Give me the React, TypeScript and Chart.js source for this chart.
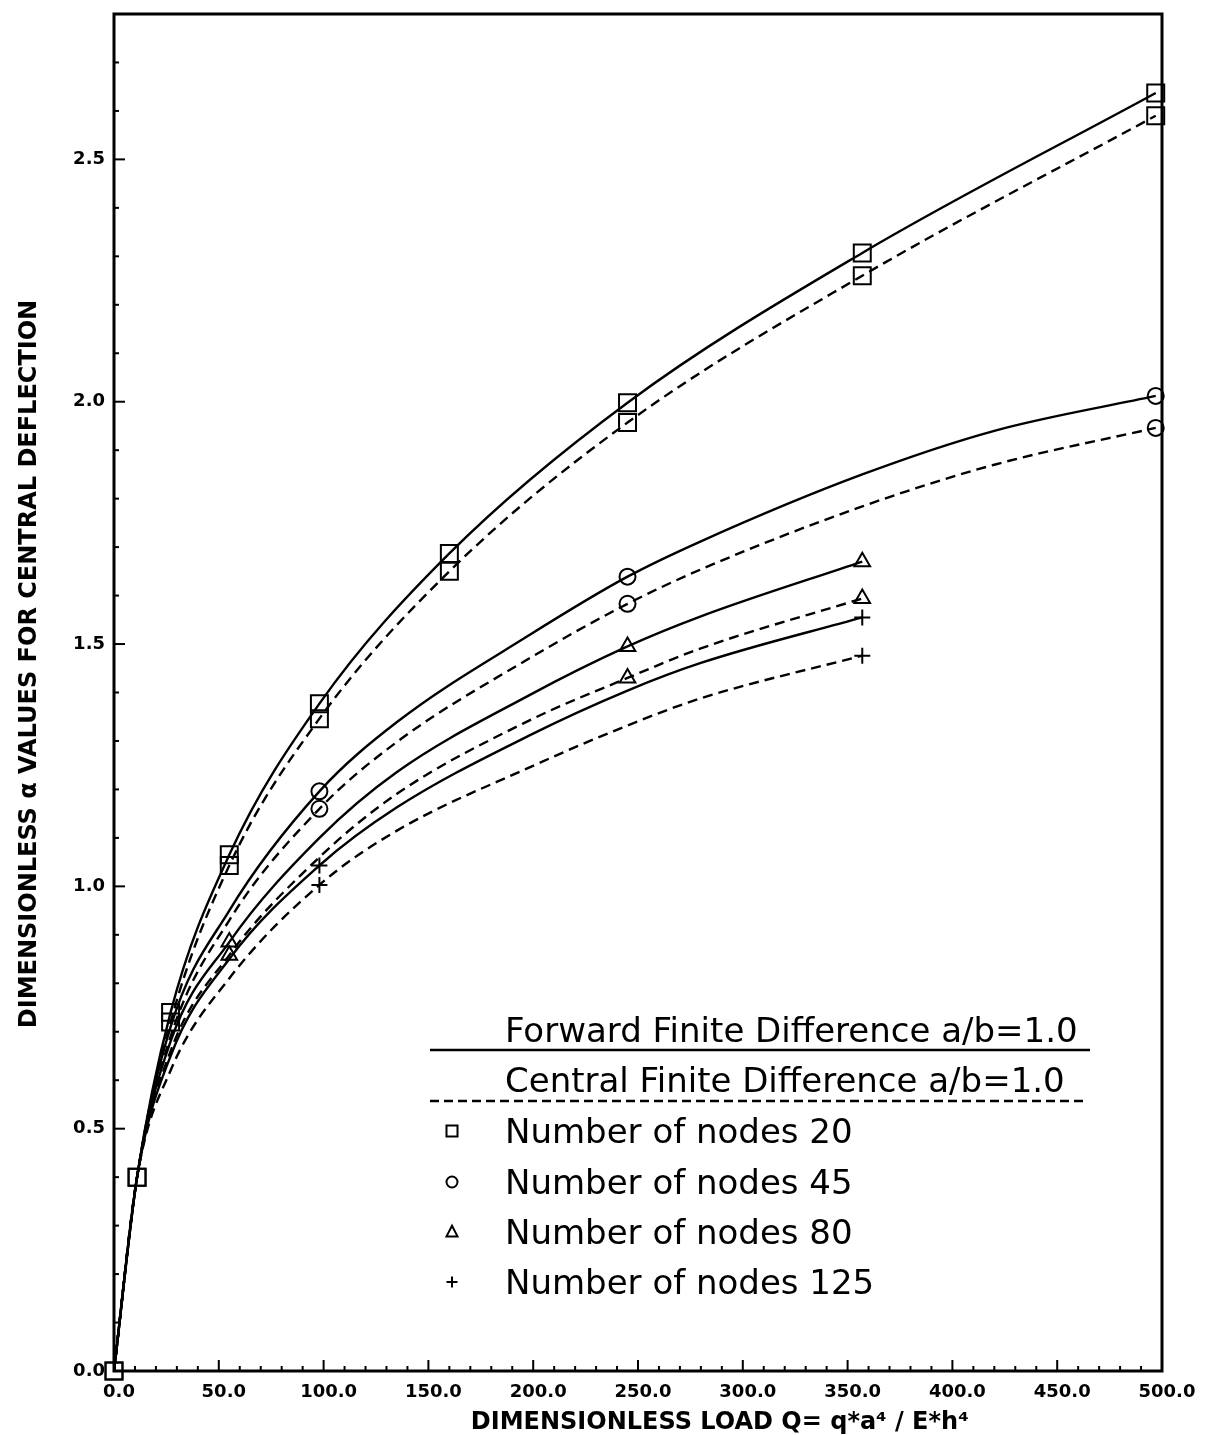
import React, { useEffect, useRef } from 'react';
import { Chart, registerables } from 'chart.js';

Chart.register(...registerables);

// ---- Data ----
// Number of nodes 20 (squares): markers at every data point
const Q_20 = [0, 11, 27, 55, 98, 160, 245, 357, 497];
const N20_FORWARD = [0, 0.4, 0.74, 1.065, 1.377, 1.687, 1.998, 2.307, 2.637];
const N20_CENTRAL = [0, 0.4, 0.72, 1.043, 1.346, 1.65, 1.957, 2.26, 2.59];

// Number of nodes 45 (circles)
const Q_45 = [0, 11, 27, 55, 98, 135, 198, 245, 280, 357, 420, 497];
const N45_FORWARD = [0, 0.4, 0.71, 0.95, 1.196, 1.339, 1.518, 1.639, 1.712, 1.85, 1.94, 2.012];
const N45_CENTRAL = [0, 0.4, 0.69, 0.93, 1.16, 1.298, 1.47, 1.583, 1.654, 1.784, 1.87, 1.946];
const MARK_Q_45 = [98, 245, 497];

// Number of nodes 80 (triangles)
const Q_80 = [0, 11, 27, 55, 98, 135, 198, 245, 280, 357];
const N80_FORWARD = [0, 0.4, 0.68, 0.885, 1.1, 1.236, 1.394, 1.495, 1.557, 1.67];
const N80_CENTRAL = [0, 0.4, 0.66, 0.858, 1.06, 1.191, 1.342, 1.43, 1.491, 1.594];
const MARK_Q_80 = [55, 245, 357];

// Number of nodes 125 (plus)
const Q_125 = [0, 11, 27, 55, 98, 135, 198, 245, 280, 357];
const N125_FORWARD = [0, 0.4, 0.65, 0.85, 1.043, 1.163, 1.311, 1.404, 1.461, 1.555];
const N125_CENTRAL = [0, 0.4, 0.62, 0.81, 1.003, 1.115, 1.245, 1.332, 1.388, 1.476];
const MARK_Q_125 = [98, 357];

// Axes
const X_MIN = 0;
const X_MAX = 500;
const X_MINOR_STEP = 10;
const X_MAJOR_STEP = 50;
const Y_MIN = 0;
const Y_MAX = 2.8;
const Y_MINOR_STEP = 0.1;
const Y_MAJOR_STEP = 0.5;

const X_TITLE = 'DIMENSIONLESS LOAD Q= q*a\u2074 / E*h\u2074';
const Y_TITLE = 'DIMENSIONLESS \u03b1 VALUES FOR CENTRAL DEFLECTION';
const LEGEND_METHODS = ['Forward Finite Difference a/b=1.0', 'Central Finite Difference a/b=1.0'];
const LEGEND_NODES = ['Number of nodes 20', 'Number of nodes 45', 'Number of nodes 80', 'Number of nodes 125'];
const LEGEND_MARKERS = ['rect', 'circle', 'triangle', 'cross'];

const isMultiple = (v: number, step: number) => Math.abs(v / step - Math.round(v / step)) < 1e-6;
const toPoints = (xs: number[], ys: number[]) => xs.map((x, i) => ({ x, y: ys[i] }));
const pick = (xs: number[], ys: number[], keep: number[]) =>
  toPoints(xs, ys).filter((p) => keep.includes(p.x));

const DASH = [10, 6];

function curve(label: string, xs: number[], ys: number[], dashed: boolean) {
  return {
    type: 'line' as const,
    label,
    data: toPoints(xs, ys),
    borderColor: '#000',
    borderWidth: 2.4,
    borderDash: dashed ? DASH : [],
    pointRadius: 0,
    cubicInterpolationMode: 'monotone' as const,
    fill: false,
  };
}

function markers(label: string, data: { x: number; y: number }[], style: string, radius: number) {
  return {
    type: 'scatter' as const,
    label,
    data,
    pointStyle: style,
    pointRadius: radius,
    pointBorderWidth: 2,
    borderColor: '#000',
    backgroundColor: 'rgba(0,0,0,0)',
    showLine: false,
    clip: false as const,
  };
}

const frameTicksPlugin = {
  id: 'frameTicks',
  beforeDatasetsDraw(chart: any) {
    const { ctx, chartArea: a, scales } = chart;
    const x = scales.x;
    const y = scales.y;
    ctx.save();
    ctx.strokeStyle = '#000';
    ctx.setLineDash([]);
    ctx.lineWidth = 2;
    for (const t of x.ticks) {
      const px = x.getPixelForValue(t.value);
      const len = isMultiple(t.value, X_MAJOR_STEP) ? 11 : 5;
      ctx.beginPath();
      ctx.moveTo(px, a.bottom);
      ctx.lineTo(px, a.bottom - len);
      ctx.stroke();
    }
    for (const t of y.ticks) {
      const py = y.getPixelForValue(t.value);
      const len = isMultiple(t.value, Y_MAJOR_STEP) ? 11 : 5;
      ctx.beginPath();
      ctx.moveTo(a.left, py);
      ctx.lineTo(a.left + len, py);
      ctx.stroke();
    }
    ctx.lineWidth = 3;
    ctx.strokeRect(a.left, a.top, a.right - a.left, a.bottom - a.top);
    ctx.restore();
  },
};

function drawMarker(ctx: CanvasRenderingContext2D, style: string, cx: number, cy: number, r: number) {
  ctx.beginPath();
  if (style === 'rect') {
    ctx.rect(cx - r, cy - r, 2 * r, 2 * r);
  } else if (style === 'circle') {
    ctx.arc(cx, cy, r, 0, Math.PI * 2);
  } else if (style === 'triangle') {
    ctx.moveTo(cx, cy - r * 1.15);
    ctx.lineTo(cx + r, cy + r * 0.8);
    ctx.lineTo(cx - r, cy + r * 0.8);
    ctx.closePath();
  } else {
    ctx.moveTo(cx - r, cy);
    ctx.lineTo(cx + r, cy);
    ctx.moveTo(cx, cy - r);
    ctx.lineTo(cx, cy + r);
  }
  ctx.stroke();
}

const annotationPlugin = {
  id: 'titlesLegend',
  afterDraw(chart: any) {
    const { ctx, chartArea: a } = chart;
    ctx.save();
    ctx.fillStyle = '#000';
    ctx.strokeStyle = '#000';

    // Axis titles
    ctx.font = 'bold 24px "DejaVu Sans"';
    ctx.textAlign = 'center';
    ctx.textBaseline = 'alphabetic';
    ctx.fillText(X_TITLE, a.left + (a.right - a.left) * 0.578, a.bottom + 58);

    ctx.save();
    ctx.translate(a.left - 78, a.top + (a.bottom - a.top) * 0.479);
    ctx.rotate(-Math.PI / 2);
    ctx.fillText(Y_TITLE, 0, 0);
    ctx.restore();

    // Legend
    const lx0 = 430;
    const lx1 = 1090;
    const tx = 505;
    ctx.textAlign = 'left';
    ctx.font = '34px "DejaVu Sans"';
    ctx.fillText(LEGEND_METHODS[0], tx, 1042);
    ctx.lineWidth = 2.4;
    ctx.setLineDash([]);
    ctx.beginPath();
    ctx.moveTo(lx0, 1050);
    ctx.lineTo(lx1, 1050);
    ctx.stroke();

    ctx.fillText(LEGEND_METHODS[1], tx, 1092);
    ctx.setLineDash([9, 5]);
    ctx.beginPath();
    ctx.moveTo(lx0, 1101);
    ctx.lineTo(lx1 - 5, 1101);
    ctx.stroke();
    ctx.setLineDash([]);

    const rowY = [1131, 1182, 1232, 1282];
    ctx.lineWidth = 2;
    LEGEND_NODES.forEach((label, i) => {
      drawMarker(ctx, LEGEND_MARKERS[i], 452, rowY[i], 5.5);
      ctx.fillText(label, tx, rowY[i] + 12);
    });
    ctx.restore();
  },
};

export default function App() {
  const ref = useRef<HTMLCanvasElement>(null);

  useEffect(() => {
    const canvas = ref.current;
    if (!canvas) return;

    const datasets: any[] = [
      curve('N20 forward', Q_20, N20_FORWARD, false),
      curve('N20 central', Q_20, N20_CENTRAL, true),
      curve('N45 forward', Q_45, N45_FORWARD, false),
      curve('N45 central', Q_45, N45_CENTRAL, true),
      curve('N80 forward', Q_80, N80_FORWARD, false),
      curve('N80 central', Q_80, N80_CENTRAL, true),
      curve('N125 forward', Q_125, N125_FORWARD, false),
      curve('N125 central', Q_125, N125_CENTRAL, true),
      markers('N20 fwd pts', toPoints(Q_20, N20_FORWARD), 'rect', 12),
      markers('N20 cen pts', toPoints(Q_20, N20_CENTRAL), 'rect', 12),
      markers('N45 fwd pts', pick(Q_45, N45_FORWARD, MARK_Q_45), 'circle', 8),
      markers('N45 cen pts', pick(Q_45, N45_CENTRAL, MARK_Q_45), 'circle', 8),
      markers('N80 fwd pts', pick(Q_80, N80_FORWARD, MARK_Q_80), 'triangle', 9),
      markers('N80 cen pts', pick(Q_80, N80_CENTRAL, MARK_Q_80), 'triangle', 9),
      markers('N125 fwd pts', pick(Q_125, N125_FORWARD, MARK_Q_125), 'cross', 8),
      markers('N125 cen pts', pick(Q_125, N125_CENTRAL, MARK_Q_125), 'cross', 8),
    ];

    const tickFont = { family: '"DejaVu Sans"', weight: 'bold' as const, size: 18 };

    const chart = new Chart(canvas, {
      type: 'line',
      data: { datasets },
      plugins: [frameTicksPlugin, annotationPlugin],
      options: {
        animation: false,
        responsive: true,
        maintainAspectRatio: false,
        layout: { padding: { top: 7, right: 43, bottom: 0, left: 0 } },
        plugins: { legend: { display: false }, tooltip: { enabled: false } },
        scales: {
          x: {
            type: 'linear',
            min: X_MIN,
            max: X_MAX,
            afterFit: (s: any) => {
              s.height = 64;
              s.paddingLeft = 0;
              s.paddingRight = 0;
            },
            grid: { display: false, drawTicks: false },
            border: { display: false },
            ticks: {
              stepSize: X_MINOR_STEP,
              autoSkip: false,
              maxRotation: 0,
              padding: 11,
              labelOffset: 5,
              color: '#000',
              font: tickFont,
              callback: (v: any) => (isMultiple(Number(v), X_MAJOR_STEP) ? Number(v).toFixed(1) : ''),
            },
          },
          y: {
            type: 'linear',
            min: Y_MIN,
            max: Y_MAX,
            afterFit: (s: any) => {
              s.width = 114;
              s.paddingTop = 0;
              s.paddingBottom = 0;
            },
            grid: { display: false, drawTicks: false },
            border: { display: false },
            ticks: {
              stepSize: Y_MINOR_STEP,
              autoSkip: false,
              padding: 9,
              color: '#000',
              font: tickFont,
              callback: (v: any) => (isMultiple(Number(v), Y_MAJOR_STEP) ? Number(v).toFixed(1) : ''),
            },
          },
        },
      },
    });

    return () => chart.destroy();
  }, []);

  return (
    <div style={{ position: 'absolute', left: 0, top: 0, width: 1205, height: 1435, background: '#fff' }}>
      <canvas ref={ref} />
    </div>
  );
}
